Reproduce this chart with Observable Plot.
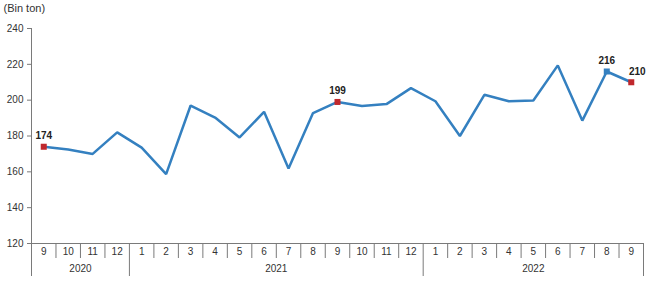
<!DOCTYPE html>
<html><head><meta charset="utf-8">
<script src="https://cdn.jsdelivr.net/npm/d3@7"></script>
<script src="https://cdn.jsdelivr.net/npm/@observablehq/plot@0.6"></script>
<style>html,body{margin:0;padding:0;background:#fff} svg{display:block}</style>
</head><body><div id="chart"></div>
<script>
const months = ["9","10","11","12","1","2","3","4","5","6","7","8","9","10","11","12","1","2","3","4","5","6","7","8","9"];
const yearNames = ["2020","2021","2022"];
const yearLengths = [4, 12, 9];
const values = [174, 172.5, 170, 182, 173.5, 158.7, 197, 190.3, 179.2, 193.5, 161.8, 192.8, 199, 196.8, 197.8, 206.7, 199.4, 180, 203, 199.4, 199.8, 219.4, 188.6, 216, 210];
const yTicks = [120, 140, 160, 180, 200, 220, 240];
const redIdx = [0, 12, 24];
const blueIdx = [23];
const labelIdx = [0, 12, 23];
const lastLabelIdx = [24];
const unitLabel = "(Bin ton)";

const data = values.map((v, i) => ({i, v, m: months[i]}));
let start = 0;
const years = yearNames.map((y, k) => {
  const s = start; start += yearLengths[k];
  return {y, mid: (s + start - 1) / 2, end: start - 0.5};
});
const bounds = d3.range(0, values.length + 1).map(k => k - 0.5);
const yearBounds = new Set([-0.5, ...years.map(d => d.end)]);
const shortB = bounds.filter(b => !yearBounds.has(b));
const longB = bounds.filter(b => yearBounds.has(b) && b > -0.5);

const lineColor = "#3480c0";
const redColor = "#c0282d";
const axisColor = "#7a7a7a";
const frameH = 282 - 28 - 39;

const chart = Plot.plot({
  width: 650, height: 282,
  marginLeft: 31, marginRight: 7, marginTop: 28, marginBottom: 39,
  style: {fontFamily: "'Liberation Sans', Arial, sans-serif", fontSize: "10px", color: "#333", background: "#fff"},
  x: {type: "linear", domain: [-0.5, values.length - 0.5], axis: null},
  y: {domain: [120, 240]},
  marks: [
    Plot.axisY({ticks: yTicks, tickSize: 4, tickPadding: 4, label: null, stroke: axisColor, fill: "#333", fontSize: 10}),
    Plot.ruleY([120], {stroke: axisColor}),
    Plot.ruleX([-0.5], {stroke: axisColor, insetBottom: -33}),
    Plot.ruleX(longB, {stroke: axisColor, insetTop: frameH, insetBottom: -33}),
    Plot.ruleX(shortB, {stroke: axisColor, insetTop: frameH, insetBottom: -15}),
    Plot.text(data, {x: "i", text: "m", frameAnchor: "bottom", dy: 11, fill: "#333", fontSize: 10}),
    Plot.text(years, {x: "mid", text: "y", frameAnchor: "bottom", dy: 28, fill: "#333", fontSize: 10}),
    Plot.line(data, {x: "i", y: "v", stroke: lineColor, strokeWidth: 2.5, strokeLinejoin: "miter"}),
    Plot.dot(data.filter(d => redIdx.includes(d.i)), {x: "i", y: "v", symbol: "square", fill: redColor, r: 3.4}),
    Plot.dot(data.filter(d => blueIdx.includes(d.i)), {x: "i", y: "v", symbol: "square", fill: lineColor, r: 3.4}),
    Plot.text(data.filter(d => labelIdx.includes(d.i)), {x: "i", y: "v", text: d => Math.round(d.v), dy: -11, fontWeight: "bold", fill: "#222", fontSize: 10}),
    Plot.text(data.filter(d => lastLabelIdx.includes(d.i)), {x: "i", y: "v", text: d => Math.round(d.v), dy: -10, dx: 6, fontWeight: "bold", fill: "#222", fontSize: 10}),
    Plot.text([unitLabel], {frameAnchor: "top-left", dx: -28, dy: -20, textAnchor: "start", lineAnchor: "middle", fill: "#333", fontSize: 11})
  ]
});
document.getElementById("chart").append(chart);
</script>
</body></html>
